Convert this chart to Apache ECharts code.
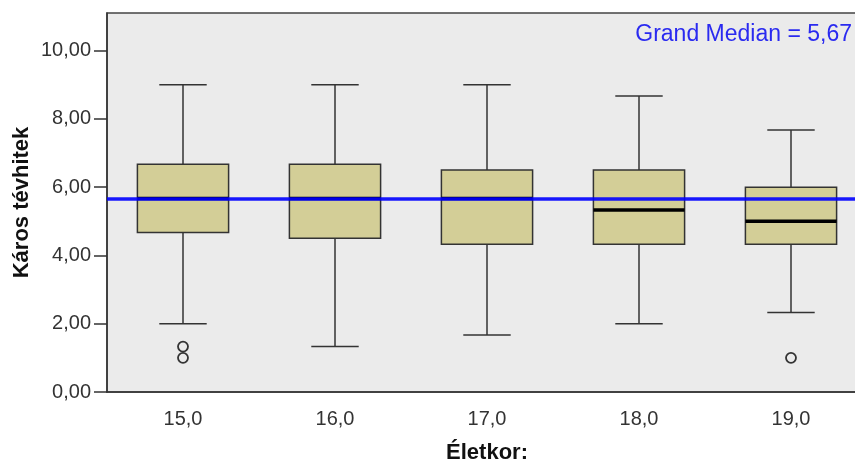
<!DOCTYPE html>
<html>
<head>
<meta charset="utf-8">
<script src="https://cdn.jsdelivr.net/npm/echarts@6/dist/echarts.min.js"></script>
<style>
  html, body { margin: 0; padding: 0; background: #fff; }
  #chart { width: 855px; height: 459px; }
</style>
</head>
<body>
<div id="chart"></div>
<script>
// Age groups on the x axis
const ageGroups = ['15,0', '16,0', '17,0', '18,0', '19,0'];
// Five-number summaries per age group
const whiskerLow  = [2.00, 1.33, 1.67, 2.00, 2.33];
const quartile1   = [4.67, 4.50, 4.33, 4.33, 4.33];
const medians     = [5.67, 5.67, 5.67, 5.33, 5.00];
const quartile3   = [6.67, 6.67, 6.50, 6.50, 6.00];
const whiskerHigh = [9.00, 9.00, 9.00, 8.67, 7.67];
// Outliers as [group index, value]
const outliers = [[0, 1.33], [0, 1.00], [4, 1.00]];
// Overall median across all groups
const grandMedian = 5.67;
// Y axis range and step
const yMin = 0, yMax = 11.1, yStep = 2;

const fmt = (v, d) => v.toFixed(d).replace('.', ',');
const FONT = "'Liberation Sans', Arial, sans-serif";

const boxData = ageGroups.map((_, i) => [i, whiskerLow[i], quartile1[i], medians[i], quartile3[i], whiskerHigh[i]]);

function renderBox(params, api) {
  const idx = api.value(0);
  const band = api.size([1, 0])[0];
  const boxW = band * 0.6;
  const capW = boxW * 0.52;
  const pLow = api.coord([idx, api.value(1)]);
  const pQ1 = api.coord([idx, api.value(2)]);
  const pMed = api.coord([idx, api.value(3)]);
  const pQ3 = api.coord([idx, api.value(4)]);
  const pHigh = api.coord([idx, api.value(5)]);
  const cx = pMed[0];
  const line = { stroke: '#333', lineWidth: 1.5 };
  return {
    type: 'group',
    children: [
      { type: 'line', shape: { x1: cx, y1: pHigh[1], x2: cx, y2: pQ3[1] }, style: line },
      { type: 'line', shape: { x1: cx, y1: pQ1[1], x2: cx, y2: pLow[1] }, style: line },
      { type: 'line', shape: { x1: cx - capW / 2, y1: pHigh[1], x2: cx + capW / 2, y2: pHigh[1] }, style: line },
      { type: 'line', shape: { x1: cx - capW / 2, y1: pLow[1], x2: cx + capW / 2, y2: pLow[1] }, style: line },
      { type: 'rect', shape: { x: cx - boxW / 2, y: pQ3[1], width: boxW, height: pQ1[1] - pQ3[1] },
        style: { fill: '#D3CE97', stroke: '#333', lineWidth: 1.5 } },
      { type: 'line', shape: { x1: cx - boxW / 2, y1: pMed[1], x2: cx + boxW / 2, y2: pMed[1] },
        style: { stroke: '#000', lineWidth: 3.5 } }
    ]
  };
}

const chart = echarts.init(document.getElementById('chart'), null, { renderer: 'canvas' });
chart.setOption({
  animation: false,
  textStyle: { fontFamily: FONT },
  grid: {
    left: 107, top: 13, right: -12, bottom: 67,
    outerBoundsMode: 'none',
    containLabel: false,
    show: true, backgroundColor: '#EBEBEB', borderColor: '#444', borderWidth: 1.5
  },
  graphic: [{
    type: 'text',
    right: 3, top: 23,
    style: {
      text: 'Grand Median = ' + fmt(grandMedian, 2),
      fill: '#2a2af0', font: '23px ' + FONT
    },
    z: 10
  }],
  xAxis: {
    type: 'category',
    data: ageGroups,
    name: 'Életkor:',
    nameLocation: 'middle',
    nameGap: 50,
    nameMoveOverlap: false,
    nameTextStyle: { fontSize: 22, fontWeight: 'bold', color: '#111', fontFamily: FONT },
    axisLine: { lineStyle: { color: '#333', width: 1.5 } },
    axisTick: { alignWithLabel: true, length: 13, lineStyle: { color: '#333', width: 1.5 } },
    axisLabel: { margin: 17, fontSize: 20, color: '#333', fontFamily: FONT },
    splitLine: { show: false }
  },
  yAxis: {
    type: 'value',
    min: yMin, max: yMax, interval: yStep,
    name: 'Káros tévhitek',
    nameLocation: 'middle',
    nameRotate: 90,
    nameGap: 74,
    nameMoveOverlap: false,
    nameTextStyle: { fontSize: 22, fontWeight: 'bold', color: '#111', fontFamily: FONT },
    axisLine: { show: true, lineStyle: { color: '#333', width: 1.5 } },
    axisTick: { show: true, length: 13, lineStyle: { color: '#333', width: 1.5 } },
    axisLabel: { margin: 16, fontSize: 20, color: '#333', fontFamily: FONT, showMaxLabel: false,
      formatter: v => fmt(v, 2) },
    splitLine: { show: false }
  },
  series: [
    {
      type: 'custom',
      renderItem: renderBox,
      data: boxData,
      encode: { x: 0, y: [1, 2, 3, 4, 5] },
      z: 2,
      markLine: {
        silent: true,
        symbol: ['none', 'none'],
        label: { show: false },
        lineStyle: { color: '#0000ff', width: 3.5, type: 'solid', opacity: 0.9 },
        data: [{ yAxis: grandMedian }]
      }
    },
    {
      type: 'scatter',
      data: outliers,
      symbol: 'circle',
      symbolSize: 10,
      itemStyle: { color: 'rgba(0,0,0,0)', borderColor: '#333', borderWidth: 1.8, opacity: 1 },
      z: 6
    }
  ]
});
</script>
</body>
</html>
